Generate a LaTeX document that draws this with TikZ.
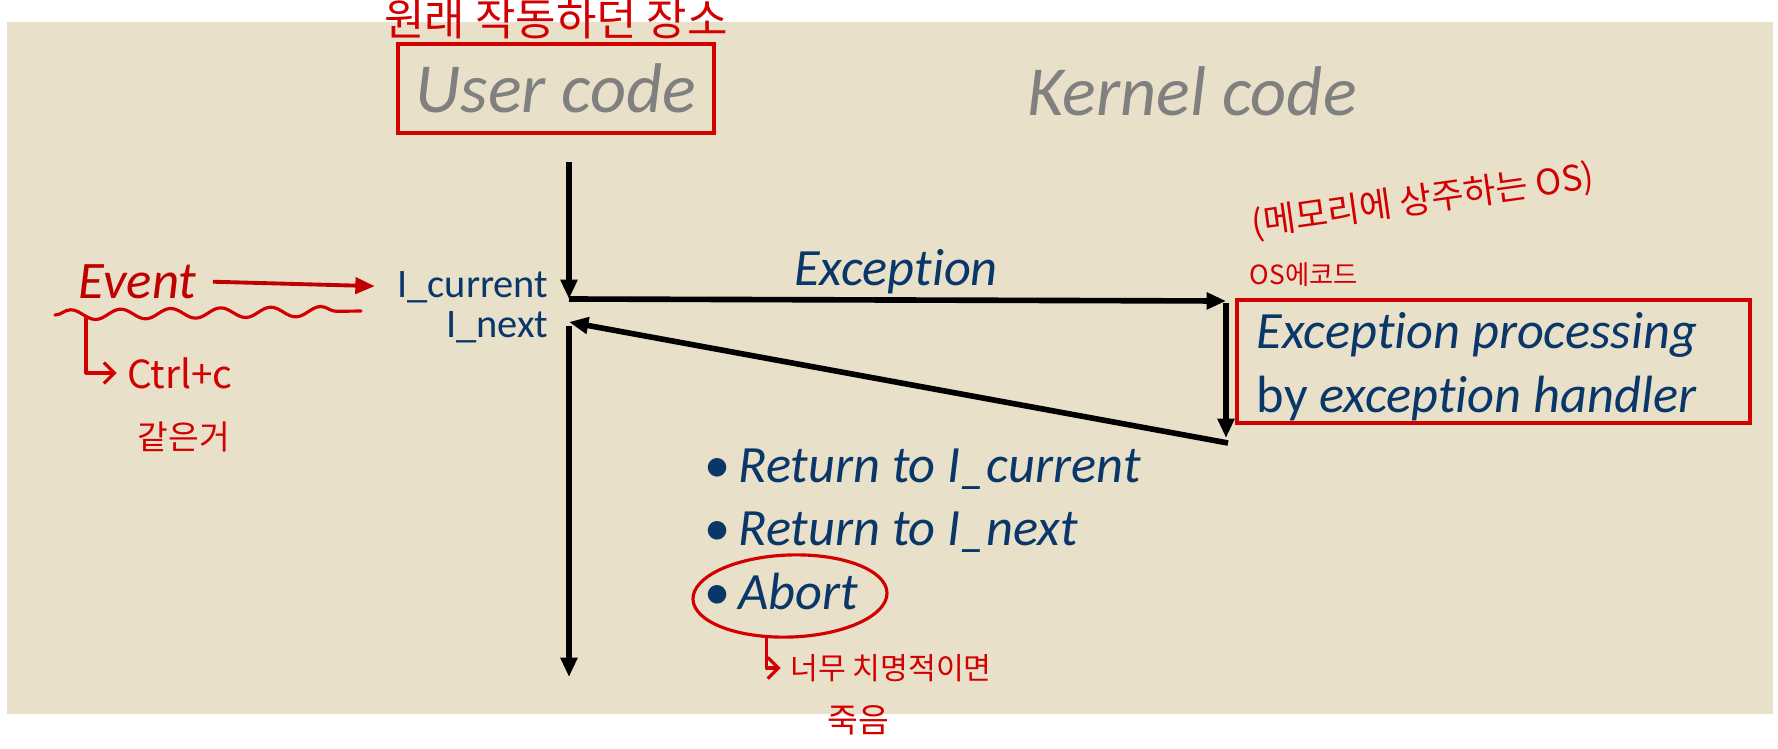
\documentclass[tikz,border=0pt]{standalone}
\usepackage{fontspec}
\setmainfont{Carlito}[Ligatures=NoCommon]
\newfontfamily\hand{Noto Sans CJK KR}
\usepackage{tikz}
\usetikzlibrary{arrows.meta,positioning,shapes.geometric,decorations.pathmorphing}
\definecolor{paper}{RGB}{232,224,201}
\definecolor{navy}{RGB}{10,55,105}
\definecolor{pen}{RGB}{210,0,0}
\definecolor{evred}{RGB}{192,0,0}
\definecolor{dimgray}{RGB}{128,128,128}

\begin{document}
\begin{tikzpicture}[x=0.01cm, y=-0.01cm,
  >={Triangle[length=5.5pt,width=4.6pt]},
  flow/.style={->, line width=1.6pt},
  codelabel/.style={text=dimgray, font=\fontsize{20}{24}\selectfont\itshape, inner sep=0pt},
  instr/.style={text=navy, font=\fontsize{11.5}{14}\selectfont, inner sep=0pt, anchor=base east},
  item/.style={text=navy, font=\fontsize{14.9}{18.2}\selectfont, inner sep=0pt, anchor=base west},
  note/.style={text=pen, inner sep=0pt, font=\hand\fontsize{#1}{#1}\selectfont},
  redbox/.style={draw=pen, line width=1.2pt},
  pen line/.style={draw=pen, line width=0.9pt, line cap=round, line join=round},
]
% slide background
\fill[paper] (7,22) rectangle (1773,714);
\useasboundingbox (0,0) rectangle (1778,748);

% titles
\node[redbox, codelabel, minimum width=3.16cm, minimum height=0.89cm] (user) at (556,88.5) {User code};
\node[codelabel, anchor=base] (kernel) at (1192,115) {Kernel code};

% instructions in user code
\node[instr] (cur) at (549,297) {I\_current};
\node[instr] (nxt) at (549,337) {I\_next};
\coordinate (top) at (569,162);
\coordinate (split) at (569,299);
\coordinate (back) at (569,322);
\coordinate (resume) at (569,326);
\coordinate (bottom) at (569,677);
\coordinate (hin) at (1226,301);
\coordinate (hstart) at (1226,303);
\coordinate (hend) at (1226,438);
\coordinate (hout) at (1228,443);

% handler
\node[redbox, minimum width=5.13cm, minimum height=1.23cm] (handler) at (1493.5,361.5) {};
\node[item, align=left] (hdtext) at (1256,412) {\textit{Exception processing}\\by \textit{exception handler}};
\node[item, anchor=base] (exc) at (896,285) {\textit{Exception}};

% control flow
\draw[flow] (top) -- (split);
\draw[flow] (split) -- (hin);
\draw[flow] (hstart) -- (hend);
\draw[flow] (hout) -- (back);
\draw[flow] (resume) -- (bottom);

% outcomes
\node[item] (ret1) at (704,482) {\textbullet\hspace{2.2pt}\textit{Return to I\_current}};
\node[item] (ret2) at (704,545) {\textbullet\hspace{2.2pt}\textit{Return to I\_next}};
\node[item] (abort) at (704,609) {\textbullet\hspace{2.2pt}\textit{Abort}};

% event
\node[text=evred, font=\fontsize{15}{18}\selectfont\itshape, inner sep=0pt, anchor=base west] (event) at (78,298) {Event};
\draw[->, evred, line width=1.1pt, shorten <=0.16cm, shorten >=0.22cm] (event.east) -- (cur.west);

% handwritten notes
\node[note=12.5] (origin) at (556,19) {원래 작동하던 장소};
\node[note=10, rotate=8] (resident) at (1423,201) {(메모리에 상주하는 OS)};
\node[note=7.5] (oscode) at (1304,275) {OS에코드};
\draw[pen line, decorate, decoration={snake, segment length=0.5cm, amplitude=0.05cm}] (55,315) -- (361,311);
\node[note=11] (ctrl) at (180,373) {Ctrl+c};
\node[note=9.5] (same) at (184,437) {같은거};
\draw[pen line, -{Straight Barb[length=3pt,width=6pt]}, shorten >=0.1cm] (86,318) |- (ctrl.west);
\node[draw=pen, line width=0.9pt, ellipse, minimum width=1.94cm, minimum height=0.82cm, inner sep=0pt, rotate=2] (ring) at (790,596) {};
\node[note=8.6] (fatal) at (891,668) {너무 치명적이면};
\node[note=9.5] (death) at (858,720) {죽음};
\draw[pen line, -{Straight Barb[length=3pt,width=6pt]}, shorten >=0.09cm] ([xshift=-0.25cm]ring.south) |- (fatal.west);
\end{tikzpicture}
\end{document}
